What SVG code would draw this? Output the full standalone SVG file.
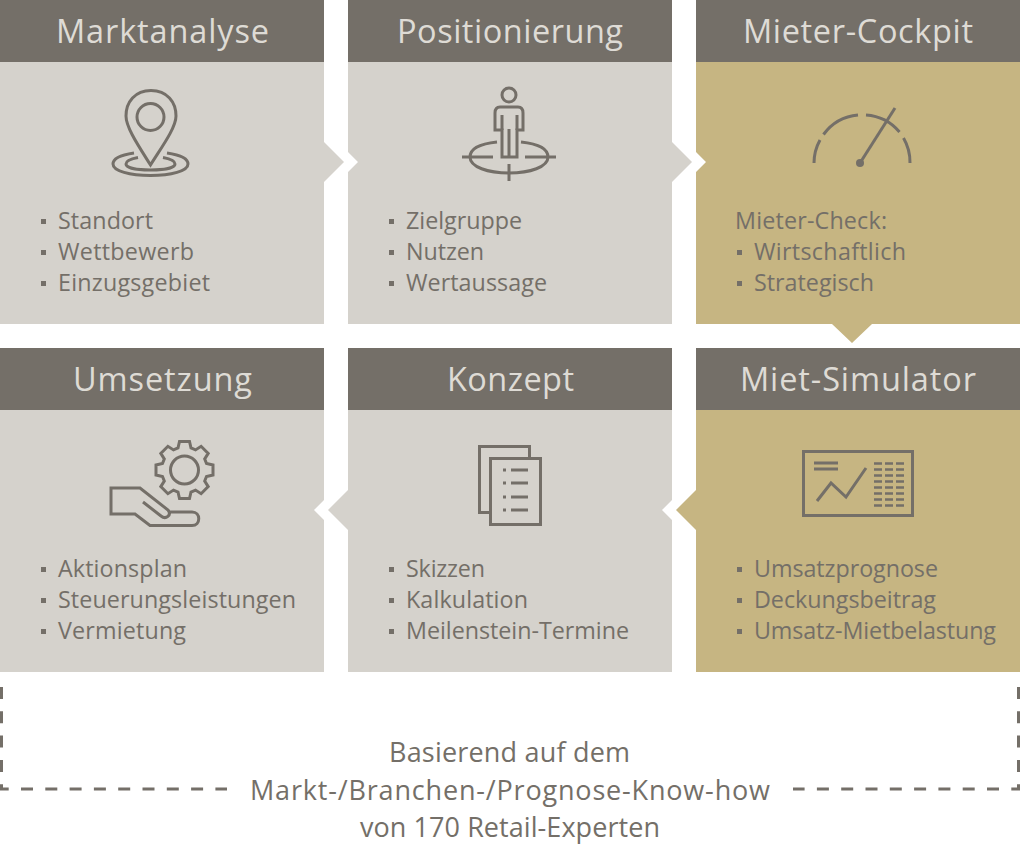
<svg xmlns="http://www.w3.org/2000/svg" width="1020" height="846" viewBox="0 0 1020 846">
<style>
.h{fill:#746f68}.b{fill:#d5d2cc}.t{fill:#c6b582}
.ht{font:500 32.500px "Open Sans","Noto Sans",sans-serif;fill:#dedbd5}
.l{font:23.300px "Open Sans","Noto Sans",sans-serif;fill:#746f68}
.f{font:27px "Open Sans","Noto Sans",sans-serif;fill:#746f68}
.i{fill:none;stroke:#746f68;stroke-width:3}
.d{fill:#746f68}
</style>
<rect width="1020" height="846" fill="#fff"/>
<g id="marktanalyse">
<rect class="b" x="0" y="62" width="324" height="262"/><rect class="h" x="0" y="0" width="324" height="62"/>
<text class="ht" x="56" y="43" textLength="213">Marktanalyse</text>
<g class="i"><path d="M151 90.500C135 90.500 126 102 126 116C126 128 140 148 150.500 165C161 148 176 128 176 116C176 102 167 90.500 151 90.500Z"/><circle cx="150.500" cy="117" r="13.500"/>
<path d="M134 153C120 155 113 159 113 164C113 171 130 175.500 150.500 175.500C171 175.500 188 171 188 164C188 159 181 155 167 153"/><path d="M138 157.500C130 159 126 161 126 164C126 168 137 170 150.500 170C164 170 175 168 175 164C175 161 171 159 163 157.500"/></g>
<rect class="d" x="41" y="219" width="5" height="5"/><rect class="d" x="41" y="250" width="5" height="5"/><rect class="d" x="41" y="281" width="5" height="5"/>
<text class="l" x="58" y="229" textLength="95">Standort</text><text class="l" x="58" y="260" textLength="136">Wettbewerb</text><text class="l" x="58" y="291" textLength="152">Einzugsgebiet</text>
</g>
<g id="positionierung">
<rect class="b" x="348" y="62" width="324" height="262"/><rect class="h" x="348" y="0" width="324" height="62"/>
<text class="ht" x="397" y="43" textLength="226">Positionierung</text>
<g class="i"><circle cx="509" cy="95" r="7"/><path d="M500 107H518C521 107 523 109 523 113V130H517V157H502V130H495V113C495 109 497 107 500 107Z"/><path d="M502 115V130M517 115V130M509 129V157"/>
<path d="M497 142C478 144 470 150 470 157C470 167 488 173 509 173C530 173 548 167 548 157C548 150 540 144 521 142"/><path d="M462 157H493M525 157H556M509 164V181"/></g>
<rect class="d" x="389" y="219" width="5" height="5"/><rect class="d" x="389" y="250" width="5" height="5"/><rect class="d" x="389" y="281" width="5" height="5"/>
<text class="l" x="406" y="229" textLength="116">Zielgruppe</text><text class="l" x="406" y="260" textLength="78">Nutzen</text><text class="l" x="406" y="291" textLength="141">Wertaussage</text>
</g>
<g id="mieter-cockpit">
<rect class="t" x="696" y="62" width="324" height="262"/><rect class="h" x="696" y="0" width="324" height="62"/>
<text class="ht" x="743" y="43" textLength="230">Mieter-Cockpit</text>
<g class="i"><path d="M814 163A48 48 0 0 1 820 140M823.500 134.500A48 48 0 0 1 858 115M866 115A48 48 0 0 1 899.500 132M903.500 138A48 48 0 0 1 910 163"/><path d="M860 163L895 108"/></g><circle class="d" cx="860" cy="163" r="4"/>
<text class="l" x="735" y="229" textLength="152">Mieter-Check:</text>
<rect class="d" x="737" y="250" width="5" height="5"/><rect class="d" x="737" y="281" width="5" height="5"/>
<text class="l" x="754" y="260" textLength="152">Wirtschaftlich</text><text class="l" x="754" y="291" textLength="120">Strategisch</text>
</g>
<g id="umsetzung">
<rect class="b" x="0" y="410" width="324" height="262"/><rect class="h" x="0" y="348" width="324" height="62"/>
<text class="ht" x="73" y="391" textLength="179">Umsetzung</text>
<g class="i"><circle cx="184.500" cy="470" r="14"/><path d="M178 448L179.500 441.500H189.500L191 448L195.500 449.900L201.100 446.300L208.200 453.400L204.700 459L206.500 463.500L213 465V475L206.500 476.500L204.700 481L208.200 486.600L201.100 493.700L195.500 490.100L191 492L189.500 498.500H179.500L178 492L173.500 490.100L167.900 493.700L160.800 486.600L164.300 481L162.500 476.500L156 475V465L162.500 463.500L164.300 459L160.800 453.400L167.900 446.300L173.500 449.900Z"/>
<path d="M143 502L161 516C166 520 172 515 168 510L140 488H111V514H135L150 525.500H192C201 525.500 201 512 192 512H169"/></g>
<rect class="d" x="41" y="567" width="5" height="5"/><rect class="d" x="41" y="598" width="5" height="5"/><rect class="d" x="41" y="629" width="5" height="5"/>
<text class="l" x="58" y="577" textLength="129">Aktionsplan</text><text class="l" x="58" y="608" textLength="238">Steuerungsleistungen</text><text class="l" x="58" y="639" textLength="128">Vermietung</text>
</g>
<g id="konzept">
<rect class="b" x="348" y="410" width="324" height="262"/><rect class="h" x="348" y="348" width="324" height="62"/>
<text class="ht" x="447" y="391" textLength="127">Konzept</text>
<g class="i"><path d="M490.500 512.500H479.500V446.500H529.500V458.500"/><rect x="490.500" y="458.500" width="50" height="66"/></g>
<g class="d"><rect x="503" y="468.500" width="3" height="3"/><rect x="511" y="468.500" width="17" height="3"/><rect x="503" y="481.500" width="3" height="3"/><rect x="511" y="481.500" width="17" height="3"/><rect x="503" y="495.500" width="3" height="3"/><rect x="511" y="495.500" width="17" height="3"/><rect x="503" y="508.500" width="3" height="3"/><rect x="511" y="508.500" width="17" height="3"/></g>
<rect class="d" x="389" y="567" width="5" height="5"/><rect class="d" x="389" y="598" width="5" height="5"/><rect class="d" x="389" y="629" width="5" height="5"/>
<text class="l" x="406" y="577" textLength="79">Skizzen</text><text class="l" x="406" y="608" textLength="122">Kalkulation</text><text class="l" x="406" y="639" textLength="223">Meilenstein-Termine</text>
</g>
<g id="miet-simulator">
<rect class="t" x="696" y="410" width="324" height="262"/><rect class="h" x="696" y="348" width="324" height="62"/>
<text class="ht" x="740" y="391" textLength="236">Miet-Simulator</text>
<g class="i"><rect x="803.500" y="451.500" width="109" height="64"/><path d="M814 463H838M814 469H838M817 501L831 483L846 497L866 468"/></g>
<g fill="none" stroke="#746f68" stroke-width="2.500" stroke-dasharray="8 3"><path d="M874 463.500H904M874 469.500H904M874 475.500H904M874 481.500H904M874 487.500H904M874 493.500H904M874 499.500H904M874 505.500H904"/></g>
<rect class="d" x="737" y="567" width="5" height="5"/><rect class="d" x="737" y="598" width="5" height="5"/><rect class="d" x="737" y="629" width="5" height="5"/>
<text class="l" x="754" y="577" textLength="184">Umsatzprognose</text><text class="l" x="754" y="608" textLength="182">Deckungsbeitrag</text><text class="l" x="754" y="639" textLength="242">Umsatz-Mietbelastung</text>
</g>
<g id="connectors">
<path fill="#fff" d="M348 152L358 162L348 172ZM696 152L706 162L696 172ZM672 500L662 510L672 520ZM324 500L314 510L324 520Z"/>
<path class="b" d="M324 142L344 162L324 182ZM672 142L692 162L672 182ZM348 490L328 510L348 530Z"/>
<path class="t" d="M832 324L852 343L872 324ZM696 490L676 510L696 530Z"/>
<path fill="none" stroke="#746f68" stroke-width="3" stroke-dasharray="12 12.300" d="M1.500 687V789H227M1018.500 687V789H793"/>
</g>
<g id="footer">
<text class="f" x="389" y="762" textLength="241">Basierend auf dem</text><text class="f" x="250" y="800" textLength="520">Markt-/Branchen-/Prognose-Know-how</text><text class="f" x="360" y="837" textLength="300">von 170 Retail-Experten</text>
</g>
</svg>
